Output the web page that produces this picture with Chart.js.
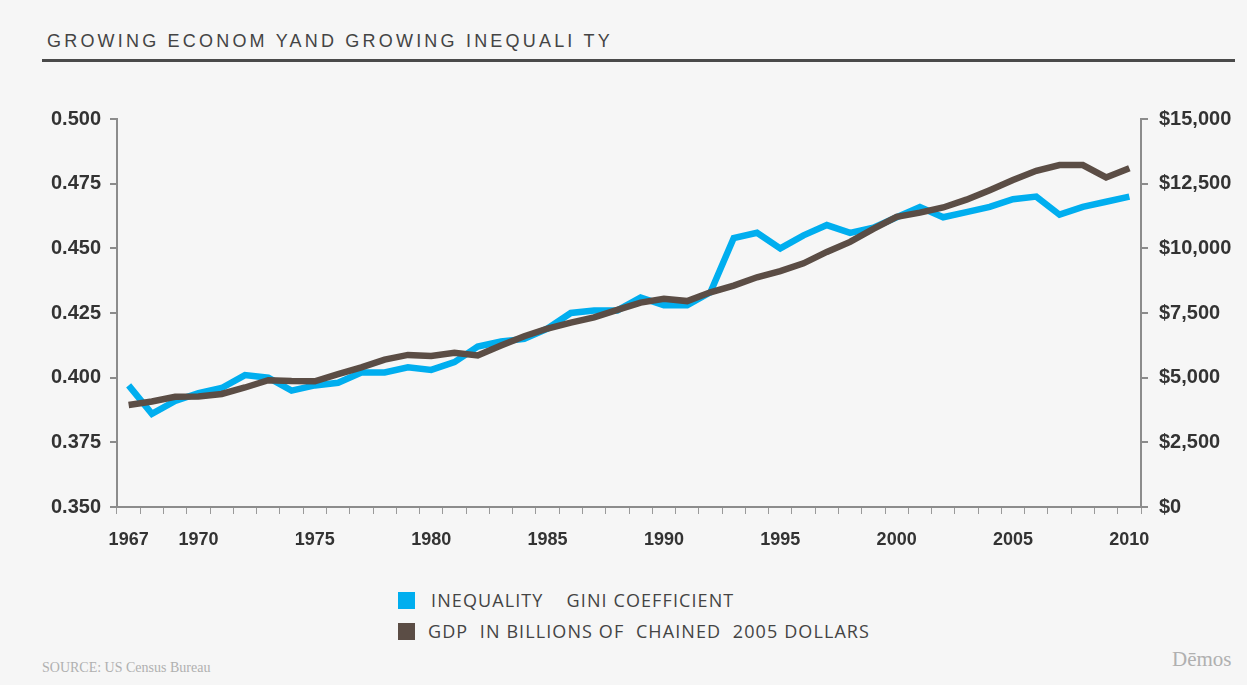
<!DOCTYPE html>
<html>
<head>
<meta charset="utf-8">
<script src="https://cdn.jsdelivr.net/npm/chart.js@4/dist/chart.umd.min.js"></script>
<style>
  html, body { margin: 0; padding: 0; background: #f6f6f6; }
  body { width: 1247px; height: 685px; position: relative; overflow: hidden; font-family: "Liberation Sans", Arial, sans-serif; }
  .title { position: absolute; left: 47px; top: 31px; font-size: 18px; letter-spacing: 3.2px; color: #444; white-space: pre; }
  .rule { position: absolute; left: 42px; top: 59px; width: 1193px; height: 3px; background: #4a4a4a; }
  .chart-box { position: absolute; left: 0; top: 96px; width: 1247px; height: 464px; }
  .legend { position: absolute; left: 398px; top: 588px; font-family: "Open Sans", "Noto Sans", sans-serif; font-size: 18px; letter-spacing: 1.1px; color: #444; }
  .legend div { height: 31px; line-height: 24px; white-space: pre; position: relative; }
  .legend span.sw { position: absolute; left: 0; top: 4px; width: 17px; height: 17px; }
  .source { position: absolute; left: 42px; top: 660px; font-family: "Liberation Serif", serif; font-size: 14px; color: #b0b0b0; }
  .logo { position: absolute; left: 1172px; top: 647px; font-family: "Liberation Serif", serif; font-size: 21px; color: #b0b0b0; }
</style>
</head>
<body>
<div class="title">GROWING ECONOM YAND GROWING INEQUALI TY</div>
<div class="rule"></div>
<div class="chart-box"><canvas id="chart"></canvas></div>
<div class="legend">
  <div><span class="sw" style="background:#00aeef"></span><span style="margin-left:33px">INEQUALITY    GINI COEFFICIENT</span></div>
  <div><span class="sw" style="background:#5b4d45"></span><span style="margin-left:30px">GDP  IN BILLIONS OF  CHAINED  2005 DOLLARS</span></div>
</div>
<div class="source">SOURCE: US Census Bureau</div>
<div class="logo">Dēmos</div>
<script>
const years = ['1967','1968','1969','1970','1971','1972','1973','1974','1975','1976','1977','1978','1979','1980','1981','1982','1983','1984','1985','1986','1987','1988','1989','1990','1991','1992','1993','1994','1995','1996','1997','1998','1999','2000','2001','2002','2003','2004','2005','2006','2007','2008','2009','2010'];
const shownYears = ['1967','1970','1975','1980','1985','1990','1995','2000','2005','2010'];
const gini = [0.397,0.386,0.391,0.394,0.396,0.401,0.400,0.395,0.397,0.398,0.402,0.402,0.404,0.403,0.406,0.412,0.414,0.415,0.419,0.425,0.426,0.426,0.431,0.428,0.428,0.433,0.454,0.456,0.450,0.455,0.459,0.456,0.458,0.462,0.466,0.462,0.464,0.466,0.469,0.470,0.463,0.466,0.468,0.470];
const gdp = [3940,4080,4260,4270,4370,4620,4900,4870,4860,5140,5400,5700,5880,5840,5960,5860,6240,6600,6900,7130,7330,7620,7900,8050,7960,8300,8560,8880,9120,9420,9860,10250,10750,11220,11380,11580,11880,12250,12640,13000,13220,13220,12740,13100];
const giniTicks = { min: 0.35, max: 0.5, step: 0.025 };
const gdpTicks = { min: 0, max: 15000, step: 2500 };

const axisColor = '#8c8c8c';
const labelFont = { family: '"Liberation Sans", Arial, sans-serif', size: 20, weight: 'bold' };

new Chart(document.getElementById('chart'), {
    type: 'line',
    data: {
        labels: years,
        datasets: [
            { label: 'GDP in billions of chained 2005 dollars', data: gdp, yAxisID: 'y1', borderColor: '#5b4d45', borderWidth: 6.5, pointRadius: 0, tension: 0 },
            { label: 'Inequality Gini coefficient', data: gini, yAxisID: 'y', borderColor: '#00aeef', borderWidth: 6.5, pointRadius: 0, tension: 0 }
        ]
    },
    options: {
        responsive: true,
        maintainAspectRatio: false,
        animation: false,
        layout: { padding: { top: 14 } },
        plugins: { legend: { display: false }, tooltip: { enabled: false } },
        scales: {
            x: {
                offset: true,
                grid: { offset: true, drawOnChartArea: false, tickLength: 7, color: '#9a9a9a' },
                border: { color: axisColor, width: 2 },
                ticks: {
                    autoSkip: false, maxRotation: 0, padding: 15, color: '#333',
                    font: { family: '"Liberation Sans", Arial, sans-serif', size: 18, weight: 'bold' },
                    callback: (v, i) => shownYears.includes(years[i]) ? years[i] : ''
                },
                afterFit: (s) => { s.height = 53; }
            },
            y: {
                position: 'left', min: giniTicks.min, max: giniTicks.max,
                grid: { drawOnChartArea: false, tickLength: 7, color: axisColor, lineWidth: 2 },
                border: { color: axisColor, width: 2 },
                ticks: { stepSize: giniTicks.step, padding: 9, color: '#333', font: labelFont, callback: (v) => v.toFixed(3) },
                afterFit: (s) => { s.width = 117; }
            },
            y1: {
                position: 'right', min: gdpTicks.min, max: gdpTicks.max,
                grid: { drawOnChartArea: false, tickLength: 7, color: axisColor, lineWidth: 2 },
                border: { color: axisColor, width: 2 },
                ticks: { stepSize: gdpTicks.step, padding: 11, color: '#333', font: labelFont, callback: (v) => '$' + v.toLocaleString('en-US') },
                afterFit: (s) => { s.width = 106; }
            }
        }
    }
});
</script>
</body>
</html>
